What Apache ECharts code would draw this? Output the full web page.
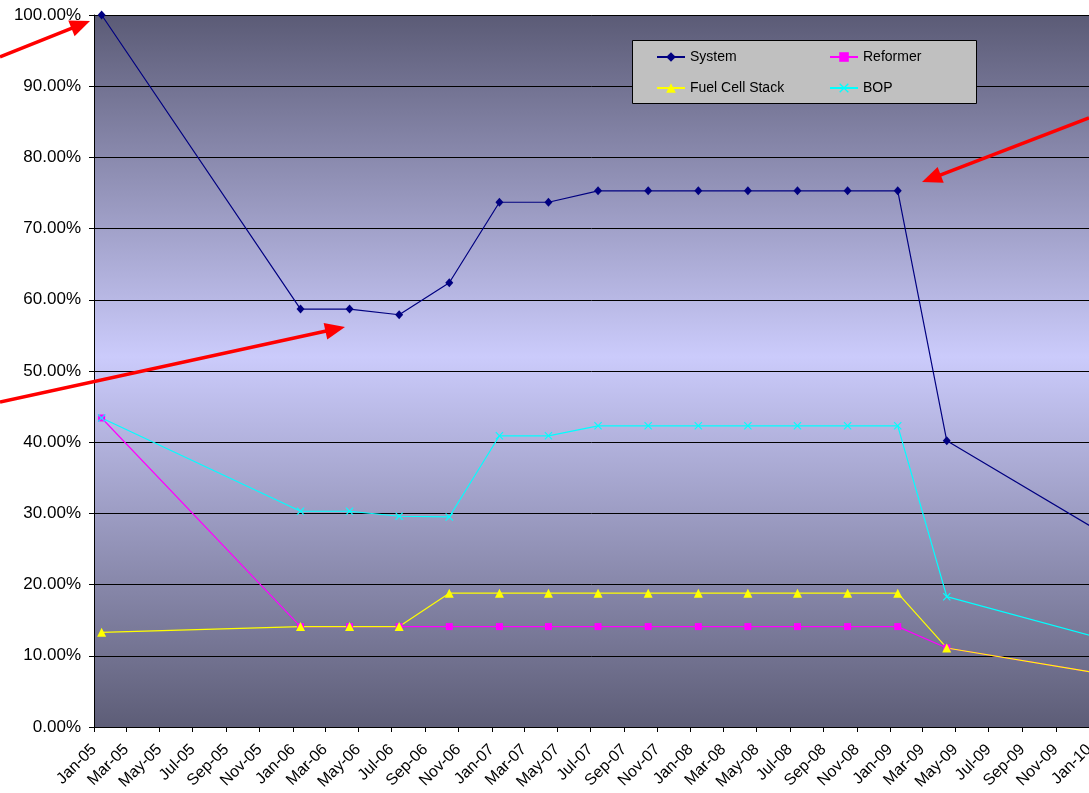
<!DOCTYPE html>
<html><head><meta charset="utf-8">
<script src="https://cdn.jsdelivr.net/npm/echarts@6/dist/echarts.min.js"></script>
<style>html,body{margin:0;padding:0;background:#fff}#c{width:1089px;height:793px}</style>
</head><body><div id="c"></div>
<script>
// ---- data ----
const dates = ['2005-01-15','2006-01-15','2006-04-15','2006-07-15','2006-10-15','2007-01-15','2007-04-15','2007-07-15','2007-10-15','2008-01-15','2008-04-15','2008-07-15','2008-10-15','2009-01-15','2009-04-15','2010-01-15'];
const system        = [100.0, 58.7, 58.7, 57.9, 62.4, 73.7, 73.7, 75.3, 75.3, 75.3, 75.3, 75.3, 75.3, 75.3, 40.2, 27.7];
const reformer      = [43.4, 14.1, 14.1, 14.1, 14.1, 14.1, 14.1, 14.1, 14.1, 14.1, 14.1, 14.1, 14.1, 14.1, 11.1, 7.6];
const fuelCellStack = [13.3, 14.1, 14.1, 14.1, 18.8, 18.8, 18.8, 18.8, 18.8, 18.8, 18.8, 18.8, 18.8, 18.8, 11.1, 7.6];
const bop           = [43.4, 30.3, 30.3, 29.6, 29.5, 40.9, 40.9, 42.3, 42.3, 42.3, 42.3, 42.3, 42.3, 42.3, 18.3, 12.6];
const tickDates = ['2005-01-01','2005-03-01','2005-05-01','2005-07-01','2005-09-01','2005-11-01',
  '2006-01-01','2006-03-01','2006-05-01','2006-07-01','2006-09-01','2006-11-01',
  '2007-01-01','2007-03-01','2007-05-01','2007-07-01','2007-09-01','2007-11-01',
  '2008-01-01','2008-03-01','2008-05-01','2008-07-01','2008-09-01','2008-11-01',
  '2009-01-01','2009-03-01','2009-05-01','2009-07-01','2009-09-01','2009-11-01','2010-01-01'];
const tickLabels = ['Jan-05','Mar-05','May-05','Jul-05','Sep-05','Nov-05',
  'Jan-06','Mar-06','May-06','Jul-06','Sep-06','Nov-06',
  'Jan-07','Mar-07','May-07','Jul-07','Sep-07','Nov-07',
  'Jan-08','Mar-08','May-08','Jul-08','Sep-08','Nov-08',
  'Jan-09','Mar-09','May-09','Jul-09','Sep-09','Nov-09','Jan-10'];
const seriesNames = ['System','Reformer','Fuel Cell Stack','BOP'];

// ---- helpers ----
function ts(s){const p=s.split('-').map(Number);return Date.UTC(p[0],p[1]-1,p[2]);}
const tickTs = tickDates.map(ts);
const labelMap = {}; tickTs.forEach((t,i)=>labelMap[t]=tickLabels[i]);
function pairs(vals){return dates.map((d,i)=>[ts(d),vals[i]]);}

function arrow(x0,y0,x1,y1){
  const dx=x1-x0, dy=y1-y0, L=Math.hypot(dx,dy), ux=dx/L, uy=dy/L;
  const hl=20, hw=8.5, bx=x1-ux*hl, by=y1-uy*hl;
  return [
    {type:'line', z:20, shape:{x1:x0,y1:y0,x2:bx+ux*2,y2:by+uy*2}, style:{stroke:'#ff0000', lineWidth:3.5}},
    {type:'polygon', z:20, shape:{points:[[x1,y1],[bx-uy*hw,by+ux*hw],[bx+uy*hw,by-ux*hw]]}, style:{fill:'#ff0000'}}
  ];
}

const xSym = 'path://M0,1L1,0L5,4L9,0L10,1L6,5L10,9L9,10L5,6L1,10L0,9L4,5Z';
const font = '"Liberation Sans", Arial, sans-serif';

const chart = echarts.init(document.getElementById('c'), null, {renderer:'canvas'});
chart.setOption({
  animation:false,
  backgroundColor:'#ffffff',
  textStyle:{fontFamily:font},
  grid:{left:94, top:15, right:0, bottom:66, show:true, borderWidth:0, containLabel:false, outerBoundsMode:'none',
    backgroundColor:{type:'linear',x:0,y:0,x2:0,y2:1,colorStops:[
      {offset:0,color:'#5b5b76'},{offset:0.48,color:'#cbcbfb'},{offset:1,color:'#5d5d77'}]}},
  xAxis:{type:'value', min:tickTs[0], max:tickTs[tickTs.length-1],
    axisLine:{show:true, lineStyle:{color:'#000', width:1}},
    axisTick:{show:true, length:5, lineStyle:{color:'#000'}, customValues:tickTs},
    axisLabel:{customValues:tickTs, rotate:45, margin:20, fontSize:16, color:'#000', fontFamily:font,
      formatter:v=>labelMap[v]||''},
    splitLine:{show:false}},
  yAxis:{type:'value', min:0, max:100, interval:10,
    axisLine:{show:true, lineStyle:{color:'#000', width:1}},
    axisTick:{show:true, length:5, lineStyle:{color:'#000'}},
    axisLabel:{margin:13, fontSize:17, color:'#000', fontFamily:font, formatter:v=>v.toFixed(2)+'%'},
    splitLine:{show:true, lineStyle:{color:'#000', width:1}}},
  legend:[
    {data:['System','Fuel Cell Stack'], orient:'vertical', left:656, top:50, padding:0, itemWidth:28, itemHeight:12, itemGap:17,
     textStyle:{fontSize:14, color:'#000', fontFamily:font}, z:30},
    {data:['Reformer','BOP'], orient:'vertical', left:829, top:50, padding:0, itemWidth:28, itemHeight:12, itemGap:17,
     textStyle:{fontSize:14, color:'#000', fontFamily:font}, z:30}
  ],
  graphic:[
    {type:'rect', z:25, shape:{x:632.5,y:40.5,width:344,height:63}, style:{fill:'#c0c0c0', stroke:'#000', lineWidth:1}},
    ...arrow(0,57,90,21),
    ...arrow(0,402,345,327),
    ...arrow(1089,118,922,182)
  ],
  series:[
    {name:seriesNames[0], type:'line', data:pairs(system), symbol:'diamond', symbolSize:[8,9],
     lineStyle:{color:'#000080', width:1.2}, itemStyle:{color:'#000080', borderWidth:0}, clip:true},
    {name:seriesNames[1], type:'line', data:pairs(reformer), symbol:'rect', symbolSize:7,
     lineStyle:{color:'#ff00ff', width:1.2}, itemStyle:{color:'#ff00ff', borderWidth:0}, clip:true},
    {name:seriesNames[2], type:'line', data:pairs(fuelCellStack), symbol:'triangle', symbolSize:[9,9],
     lineStyle:{color:'#ffff00', width:1.2}, itemStyle:{color:'#ffff00', borderWidth:0}, clip:true},
    {name:seriesNames[3], type:'line', data:pairs(bop), symbol:xSym, symbolSize:8,
     lineStyle:{color:'#00ffff', width:1.2}, itemStyle:{color:'#00ffff', borderWidth:0}, clip:true}
  ]
});
</script></body></html>
